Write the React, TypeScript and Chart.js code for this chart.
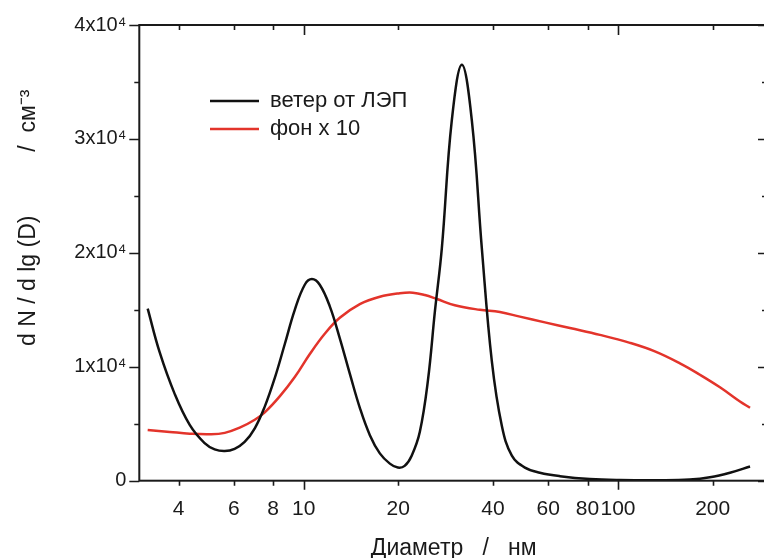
import React, { useEffect, useRef } from 'react';
import { Chart, registerables } from 'chart.js';

Chart.register(...registerables);

// ---- data ----
const seriesLabels = ['ветер от ЛЭП', 'фон x 10'];

const blackDiameters = [3.19, 3.48, 3.89, 4.34, 4.84, 5.21, 5.61, 6.03, 6.49, 6.99, 7.52, 8.09, 8.71, 9.37, 10.08, 10.62, 11.25, 12.11, 13.03, 14.02, 15.09, 16.24, 17.47, 18.8, 19.93, 20.95, 22.06, 23.42, 24.85, 26.16, 27.51, 29.59, 31.86, 34.28, 36.88, 39.68, 42.71, 45.95, 50.56, 56.42, 65.34, 81.4, 101.4, 136, 169, 196, 227, 263];
const blackValues = [15100, 11300, 7600, 4900, 3300, 2750, 2600, 2800, 3400, 4600, 6500, 9000, 12000, 15000, 17200, 17700, 17200, 15300, 12500, 9400, 6400, 4000, 2400, 1500, 1150, 1300, 2200, 4300, 8800, 14900, 20400, 31600, 36500, 31600, 20400, 10500, 4800, 2200, 1150, 700, 400, 150, 60, 40, 100, 300, 700, 1250];

const redDiameters = [3.19, 3.75, 4.34, 5.02, 5.61, 6.26, 6.99, 7.52, 8.39, 9.37, 10.45, 11.67, 13.03, 15.09, 17.47, 20.22, 22.25, 24.29, 26.53, 30.26, 36.35, 42.09, 48.74, 58.52, 70.29, 87.58, 109.1, 131.0, 157.4, 182.2, 211.0, 244.3, 263];
const redValues = [4450, 4280, 4130, 4080, 4200, 4650, 5350, 6000, 7400, 9100, 11100, 12900, 14300, 15500, 16150, 16450, 16500, 16300, 15950, 15400, 15000, 14800, 14400, 13900, 13400, 12800, 12100, 11350, 10300, 9300, 8200, 6950, 6400];

const xTickValues = [4, 6, 8, 10, 20, 40, 60, 80, 100, 200];
const xMajorTicks = [10, 100];
const yTickValues = [0, 5000, 10000, 15000, 20000, 25000, 30000, 35000, 40000];
const yTickLabels = ['0', '', '1x10⁴', '', '2x10⁴', '', '3x10⁴', '', '4x10⁴'];
const yMajorTicks = [0, 10000, 20000, 30000, 40000];

const xTitle = 'Диаметр   /   нм';
const yTitle = '           d N / d lg (D)          /  см⁻³';

const FONT = "'Liberation Sans', Arial, Helvetica, sans-serif";
const INK = '#1a1a1a';

const framePlugin = {
  id: 'frameTicks',
  beforeDraw(chart: any) {
    const lg = chart.legend;
    if (lg) {
      lg.left = 204;
      lg.top = 84;
    }
  },
  afterDatasetsDraw(chart: any) {
    const { ctx, chartArea: ca, scales } = chart;
    const x = scales.x;
    const y = scales.y;
    ctx.save();
    ctx.strokeStyle = INK;
    ctx.lineWidth = 2;
    ctx.strokeRect(ca.left, ca.top, ca.right - ca.left, ca.bottom - ca.top);
    ctx.lineWidth = 1.6;
    ctx.beginPath();
    x.ticks.forEach((t: any) => {
      const px = Math.round(x.getPixelForValue(t.value)) + 0.5;
      const major = xMajorTicks.includes(t.value);
      ctx.moveTo(px, ca.bottom);
      ctx.lineTo(px, ca.bottom + (major ? 9 : 5));
      ctx.moveTo(px, ca.top);
      ctx.lineTo(px, ca.top + (major ? 10 : 5));
    });
    y.ticks.forEach((t: any) => {
      const py = Math.round(y.getPixelForValue(t.value)) + 0.5;
      const major = yMajorTicks.includes(t.value);
      ctx.moveTo(ca.left, py);
      ctx.lineTo(ca.left - (major ? 10 : 5), py);
      ctx.moveTo(ca.right, py);
      ctx.lineTo(ca.right - (major ? 10 : 6), py);
    });
    ctx.stroke();
    ctx.restore();
  },
};

export default function App() {
  const ref = useRef<HTMLCanvasElement>(null);

  useEffect(() => {
    const canvas = ref.current;
    if (!canvas) return;
    const chart = new Chart(canvas, {
      type: 'line',
      data: {
        datasets: [
          {
            label: seriesLabels[0],
            data: blackDiameters.map((d, i) => ({ x: d, y: blackValues[i] })),
            borderColor: '#111111',
            backgroundColor: '#111111',
            borderWidth: 2.5,
            pointRadius: 0,
            tension: 0.4,
            fill: false,
          },
          {
            label: seriesLabels[1],
            data: redDiameters.map((d, i) => ({ x: d, y: redValues[i] })),
            borderColor: '#e3342b',
            backgroundColor: '#e3342b',
            borderWidth: 2.5,
            pointRadius: 0,
            tension: 0.4,
            fill: false,
          },
        ],
      },
      options: {
        animation: false,
        responsive: false,
        devicePixelRatio: 1,
        events: [],
        layout: { padding: { top: 20, right: 22, left: 0, bottom: 0 } },
        scales: {
          x: {
            type: 'logarithmic',
            position: 'bottom',
            min: 3,
            max: 300,
            afterBuildTicks: (scale: any) => {
              scale.ticks = xTickValues.map((v) => ({ value: v }));
            },
            afterFit: (scale: any) => {
              scale.height = 81.3;
            },
            grid: { display: false, drawTicks: false },
            border: { display: false },
            ticks: {
              autoSkip: false,
              maxRotation: 0,
              minRotation: 0,
              padding: 16,
              color: INK,
              font: { family: FONT, size: 21 },
              callback: (v: any) => String(v),
            },
            title: {
              display: true,
              text: xTitle,
              color: INK,
              font: { family: FONT, size: 23 },
              padding: { top: 0, bottom: 0 },
            },
          },
          y: {
            type: 'linear',
            position: 'left',
            min: 0,
            max: 40000,
            afterBuildTicks: (scale: any) => {
              scale.ticks = yTickValues.map((v) => ({ value: v }));
            },
            afterFit: (scale: any) => {
              scale.width = 139.3;
            },
            grid: { display: false, drawTicks: false },
            border: { display: false },
            ticks: {
              padding: 13,
              color: INK,
              font: { family: FONT, size: 20 },
              callback: (_v: any, i: number) => yTickLabels[i],
            },
            title: {
              display: true,
              text: yTitle,
              color: INK,
              font: { family: FONT, size: 23 },
              padding: { top: 15, bottom: 0 },
            },
          },
        },
        plugins: {
          legend: {
            position: 'chartArea' as any,
            align: 'start',
            labels: {
              boxWidth: 49,
              boxHeight: 0,
              padding: 6,
              color: INK,
              font: { family: FONT, size: 22 },
            },
          },
          tooltip: { enabled: false },
        },
      },
      plugins: [framePlugin],
    } as any);
    return () => chart.destroy();
  }, []);

  return (
    <div
      style={{
        position: 'fixed',
        left: 0,
        top: 0,
        width: 764,
        height: 558,
        overflow: 'hidden',
        background: '#ffffff',
      }}
    >
      <canvas ref={ref} width={790} height={562} style={{ display: 'block', width: 790, height: 562 }} />
    </div>
  );
}
